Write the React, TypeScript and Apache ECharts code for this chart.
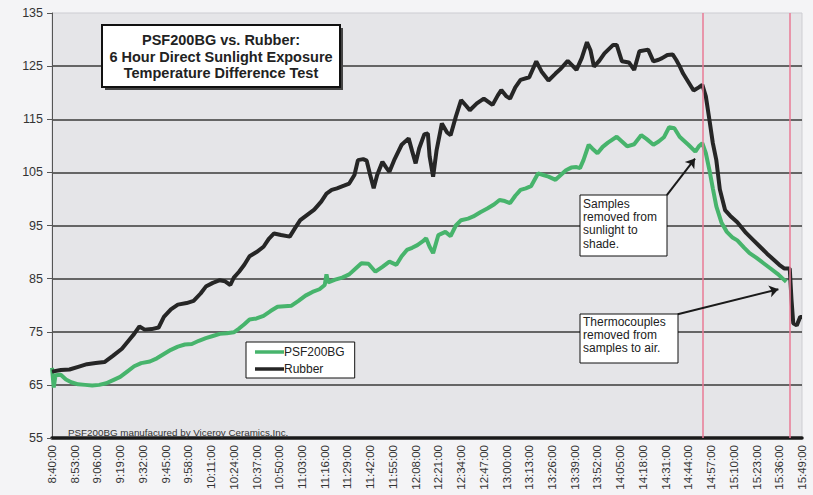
import React, { useEffect, useRef } from "react";
import * as echarts from "echarts";

// x values are minutes after 8:40:00
const timeLabels = [
  "8:40:00", "8:53:00", "9:06:00", "9:19:00", "9:32:00", "9:45:00", "9:58:00",
  "10:11:00", "10:24:00", "10:37:00", "10:50:00", "11:03:00", "11:16:00", "11:29:00",
  "11:42:00", "11:55:00", "12:08:00", "12:21:00", "12:34:00", "12:47:00", "13:00:00",
  "13:13:00", "13:26:00", "13:39:00", "13:52:00", "14:05:00", "14:18:00", "14:31:00",
  "14:44:00", "14:57:00", "15:10:00", "15:23:00", "15:36:00", "15:49:00",
];

const rubberMin = [
  0, 5, 10, 15, 20, 25, 30, 35, 40, 44, 47, 50, 53, 57, 61, 64, 68, 72, 77, 81, 85, 88, 92, 96, 99,
  102, 104, 107, 110, 113, 117, 121, 124, 127, 131, 136, 139, 142, 146, 150, 154, 157, 160, 163,
  167, 170, 173, 175, 178, 180, 182, 184, 186, 189, 191, 193, 196, 200, 204, 206, 208, 210, 213,
  215, 216, 218, 220, 223, 226, 228, 231, 234, 237, 239, 243, 247, 252, 255, 257, 260, 262, 265,
  268, 273, 277, 280, 284, 288, 291, 295, 298, 300, 303, 306, 308, 310, 313, 316, 321, 323, 326,
  330, 333, 336, 341, 344, 347, 349, 352, 355, 357, 359, 361, 364, 367, 370, 372, 374, 376, 378,
  380, 382, 385, 388, 392, 397, 401, 405, 409, 413, 416, 419, 422, 423, 424, 426, 427, 428, 429,
];
const rubberVal = [
  67.5, 67.8, 67.9, 68.4, 68.9, 69.1, 69.3, 70.5, 71.8, 73.4, 74.6, 76.0, 75.4, 75.5, 75.8, 77.8,
  79.2, 80.1, 80.4, 80.8, 82.2, 83.5, 84.2, 84.7, 84.5, 83.8, 85.2, 86.3, 87.6, 89.2, 90.0, 91.0,
  92.5, 93.5, 93.2, 92.9, 94.5, 96.0, 97.0, 98.0, 99.5, 101.0, 101.7, 102.0, 102.5, 102.9, 104.5,
  107.3, 107.5, 107.2, 104.5, 102.0, 104.5, 107.0, 106.0, 105.1, 107.5, 110.2, 111.4, 109.0, 106.7,
  109.5, 112.2, 112.3, 108.0, 104.2, 109.2, 114.2, 112.5, 112.0, 115.5, 118.6, 117.5, 116.7, 118.0,
  118.9, 117.7, 119.5, 120.5, 119.3, 118.9, 121.0, 122.4, 122.9, 125.9, 124.0, 122.3, 123.6, 124.5,
  126.0, 125.0, 124.3, 126.5, 129.5, 128.0, 124.9, 126.0, 127.4, 129.0, 129.0, 125.9, 125.7, 124.3,
  127.8, 128.1, 125.9, 126.2, 126.5, 127.1, 127.2, 126.2, 125.0, 123.6, 122.0, 120.4, 121.0, 121.5,
  119.3, 115.0, 110.5, 107.3, 101.8, 97.9, 96.8, 95.6, 93.6, 92.3, 91.0, 89.7, 88.5, 87.6, 86.9,
  86.9, 81.0, 76.6, 76.2, 77.0, 77.8, 77.8,
];

const psfMin = [
  0, 1, 2, 5, 8, 11, 15, 19, 23, 27, 31, 35, 39, 43, 47, 51, 56, 60, 64, 68, 72, 76, 80, 84, 88,
  92, 96, 100, 104, 107, 110, 113, 117, 121, 125, 129, 133, 137, 141, 145, 149, 153, 156, 157, 158,
  162, 166, 170, 174, 177, 181, 185, 189, 193, 197, 200, 203, 206, 209, 212, 214, 216, 218, 221,
  225, 228, 231, 234, 238, 241, 245, 249, 253, 256, 259, 262, 265, 268, 271, 274, 278, 281, 284,
  288, 291, 294, 297, 300, 302, 304, 307, 309, 312, 315, 318, 323, 326, 329, 333, 337, 340, 344,
  347, 350, 353, 356, 359, 361, 364, 368, 370, 372, 374, 376, 378, 380, 383, 386, 389, 392, 396,
  399, 403, 407, 411, 415, 418, 420,
];
const psfVal = [
  68.2, 64.5, 66.8, 66.9, 66.0, 65.5, 65.1, 65.0, 64.9, 65.0, 65.3, 65.9, 66.5, 67.5, 68.5, 69.1,
  69.4, 70.0, 70.8, 71.6, 72.2, 72.6, 72.7, 73.3, 73.8, 74.2, 74.6, 74.7, 74.9, 75.6, 76.4, 77.3,
  77.5, 78.0, 78.9, 79.7, 79.8, 79.9, 80.8, 81.8, 82.5, 83.0, 83.8, 85.8, 84.3, 84.8, 85.2, 85.8,
  87.0, 87.9, 87.8, 86.3, 87.2, 88.2, 87.6, 89.2, 90.4, 90.8, 91.3, 92.0, 92.6, 91.0, 89.8, 93.2,
  93.8, 93.0, 95.0, 96.0, 96.3, 96.7, 97.5, 98.2, 99.0, 99.8, 99.6, 99.2, 100.6, 101.7, 102.0,
  102.4, 104.8, 104.5, 104.2, 103.6, 104.5, 105.4, 105.9, 106.0, 105.8, 107.3, 110.2, 109.5, 108.6,
  109.8, 110.6, 111.7, 110.8, 109.9, 110.3, 112.0, 111.3, 110.2, 110.8, 111.6, 113.5, 113.3, 111.7,
  111.1, 110.2, 108.9, 109.9, 110.5, 108.6, 105.5, 102.0, 98.6, 95.5, 93.8, 92.8, 92.2, 90.8, 89.8,
  88.9, 87.9, 86.9, 85.9, 85.0, 84.4,
];

// red marker lines (minutes after 8:40)
const eventMinutes = [372, 422];
// arrows: [fromMin, fromVal, toMin, toVal]
const arrowSamples = [351.7, 100.7, 367.8, 107.6];
const arrowAir = [357.9, 78.3, 415.5, 83.0];

const FONT = "'Liberation Sans', Arial, sans-serif";

export default function App() {
  const ref = useRef<HTMLDivElement>(null);
  useEffect(() => {
    if (!ref.current) return;
    const chart = echarts.init(ref.current, undefined, { renderer: "svg" });
    const rubber = rubberMin.map((m, i) => [m, rubberVal[i]]);
    const psf = psfMin.map((m, i) => [m, psfVal[i]]);
    chart.setOption({
      animation: false,
      backgroundColor: "#f4f4f6",
      textStyle: { fontFamily: FONT },
      grid: {
        left: 52, right: 11, top: 13, bottom: 57,
        show: true, backgroundColor: "#e5e5e8", borderColor: "#cdcdd2", borderWidth: 1,
      },
      legend: {
        orient: "vertical",
        left: 246, top: 342,
        backgroundColor: "#ffffff",
        borderColor: "#111", borderWidth: 1,
        padding: [4, 10, 3, 9],
        itemWidth: 29, itemHeight: 3.5, itemGap: 5,
        textStyle: { fontSize: 12, color: "#222", fontFamily: FONT, padding: [0, 0, 0, -5] },
        data: [
          { name: "PSF200BG", icon: "rect" },
          { name: "Rubber", icon: "rect" },
        ],
      },
      xAxis: {
        type: "value",
        min: 0, max: 429, interval: 13,
        axisLine: { show: true, lineStyle: { color: "#1a1a1a", width: 3.5 } },
        axisTick: { show: false },
        splitLine: { show: false },
        axisLabel: {
          rotate: 90, fontSize: 11.5, color: "#333", margin: 7, fontFamily: FONT,
          formatter: (v: number) => timeLabels[Math.round(v / 13)] ?? "",
        },
      },
      yAxis: {
        type: "value",
        min: 55, max: 135, interval: 10,
        axisLine: { show: true, lineStyle: { color: "#555", width: 1 } },
        axisTick: { show: true, length: 5, lineStyle: { color: "#555" } },
        axisLabel: { fontSize: 12.5, color: "#333", margin: 9, fontFamily: FONT },
        splitLine: { show: true, showMaxLine: false, showMinLine: false, lineStyle: { color: "#3a3a3a", width: 1.5 } },
      },
      series: [
        {
          name: "PSF200BG", type: "line", data: psf, symbol: "none", showSymbol: false,
          lineStyle: { color: "#47b46c", width: 4 }, itemStyle: { color: "#47b46c" },
          markLine: {
            silent: true, symbol: "none", label: { show: false },
            lineStyle: { color: "#e87a96", width: 1.5, type: "solid" },
            data: eventMinutes.map((m) => ({ xAxis: m })),
          },
        },
        {
          name: "Rubber", type: "line", data: rubber, symbol: "none", showSymbol: false,
          lineStyle: { color: "#262626", width: 4 }, itemStyle: { color: "#262626" },
          markLine: {
            silent: true, symbol: ["none", "arrow"], symbolSize: 9, label: { show: false },
            lineStyle: { color: "#1a1a1a", width: 2, type: "solid" },
            data: [arrowSamples, arrowAir].map((a) => [
              { coord: [a[0], a[1]] },
              { coord: [a[2], a[3]] },
            ]),
          },
        },
      ],
      graphic: [
        { type: "rect", shape: { x: 105, y: 28, width: 238, height: 62 }, style: { fill: "#444" }, z: 10 },
        { type: "rect", shape: { x: 102, y: 25, width: 238, height: 62 }, style: { fill: "#fff", stroke: "#111", lineWidth: 2 }, z: 11 },
        {
          type: "text", x: 221, y: 56.5, z: 12,
          style: {
            text: "PSF200BG vs. Rubber:\n6 Hour Direct Sunlight Exposure\nTemperature Difference Test",
            align: "center", verticalAlign: "middle", lineHeight: 16.5,
            font: `bold 14.5px ${FONT}`, fill: "#222",
          },
        },
        { type: "rect", shape: { x: 580, y: 195, width: 87, height: 61 }, style: { fill: "#fff", stroke: "#111", lineWidth: 1 }, z: 10 },
        {
          type: "text", x: 583, y: 197, z: 12,
          style: { text: "Samples\nremoved from\nsunlight to\nshade.", lineHeight: 13.3, font: `12px ${FONT}`, fill: "#222", verticalAlign: "top" },
        },
        { type: "rect", shape: { x: 580, y: 314, width: 98, height: 49 }, style: { fill: "#fff", stroke: "#111", lineWidth: 1 }, z: 10 },
        {
          type: "text", x: 583, y: 315, z: 12,
          style: { text: "Thermocouples\nremoved from\nsamples to air.", lineHeight: 13.3, font: `12px ${FONT}`, fill: "#222", verticalAlign: "top" },
        },
        {
          type: "text", x: 68, y: 432, z: 12,
          style: { text: "PSF200BG manufacured by Viceroy Ceramics,Inc.", font: `9.8px ${FONT}`, fill: "#333", verticalAlign: "middle" },
        },
      ],
    });
    return () => chart.dispose();
  }, []);
  return (
    <div
      ref={ref}
      style={{ position: "absolute", left: 0, top: 0, width: 813, height: 495 }}
    />
  );
}
